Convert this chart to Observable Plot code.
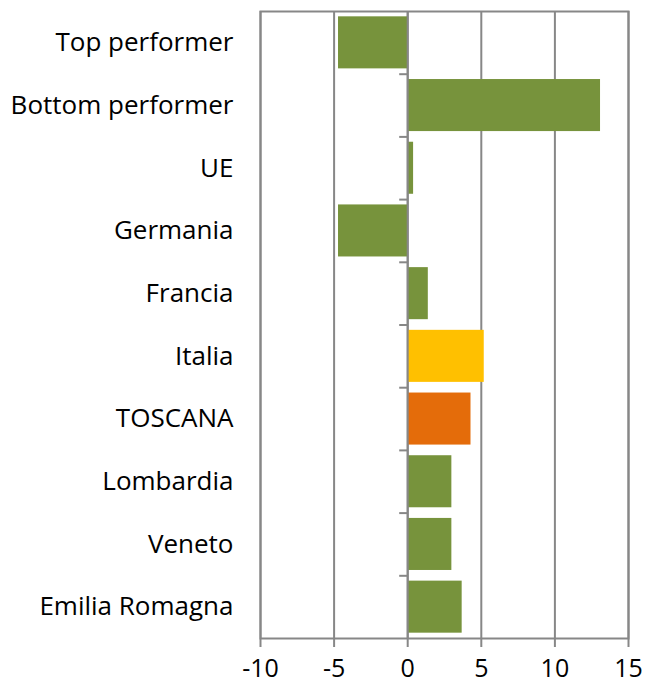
<!DOCTYPE html>
<html>
<head>
<meta charset="utf-8">
<script src="https://cdn.jsdelivr.net/npm/d3@7"></script>
<script src="https://cdn.jsdelivr.net/npm/@observablehq/plot@0.6"></script>
<style>
  html, body { margin: 0; padding: 0; background: #fff; }
</style>
</head>
<body>
<div id="chart"></div>
<script>
const categories = ["Top performer", "Bottom performer", "UE", "Germania", "Francia", "Italia", "TOSCANA", "Lombardia", "Veneto", "Emilia Romagna"];
const values = [-4.7, 13.1, 0.4, -4.7, 1.4, 5.2, 4.3, 3.0, 3.0, 3.7];
const barColors = ["#77933C", "#77933C", "#77933C", "#77933C", "#77933C", "#FFC000", "#E46C0A", "#77933C", "#77933C", "#77933C"];
const xTicks = [-10, -5, 0, 5, 10, 15];

const data = categories.map((c, i) => ({category: c, value: values[i], color: barColors[i]}));

const width = 646, height = 686;
const marginLeft = 260, marginRight = 18, marginTop = 11, marginBottom = 48;
const step = (height - marginTop - marginBottom) / categories.length;
const pxPerUnit = (width - marginLeft - marginRight) / (xTicks[xTicks.length - 1] - xTicks[0]);
const grid = "#878787";

const chart = Plot.plot({
  width, height, marginLeft, marginRight, marginTop, marginBottom,
  style: {fontFamily: "'Open Sans', sans-serif", fontSize: "25px", color: "black", background: "white"},
  x: {domain: [xTicks[0], xTicks[xTicks.length - 1]], axis: null},
  y: {domain: categories, paddingInner: 0.17, paddingOuter: 0.085, round: false, axis: null},
  color: {type: "identity"},
  marks: [
    Plot.ruleX(xTicks, {stroke: grid, strokeWidth: 2}),
    Plot.barX(data, {y: "category", x: "value", fill: "color"}),
    Plot.ruleX([0], {stroke: grid, strokeWidth: 2}),
    Plot.ruleY(categories.slice(1), {y: d => d, x1: -8 / pxPerUnit, x2: 0, dy: -step / 2, stroke: grid, strokeWidth: 2}),
    Plot.frame({stroke: grid, strokeWidth: 2}),
    Plot.axisX(xTicks, {label: null, tickSize: 9, tickPadding: 12, stroke: grid, strokeWidth: 2, fill: "black", fontSize: 25, tickFormat: d => String(d).replace("−", "-")}),
    Plot.axisY(categories, {label: null, anchor: "left", tickSize: 0, tickPadding: 27, fill: "black", fontSize: 26})
  ]
});
document.getElementById("chart").appendChild(chart);
</script>
</body>
</html>
